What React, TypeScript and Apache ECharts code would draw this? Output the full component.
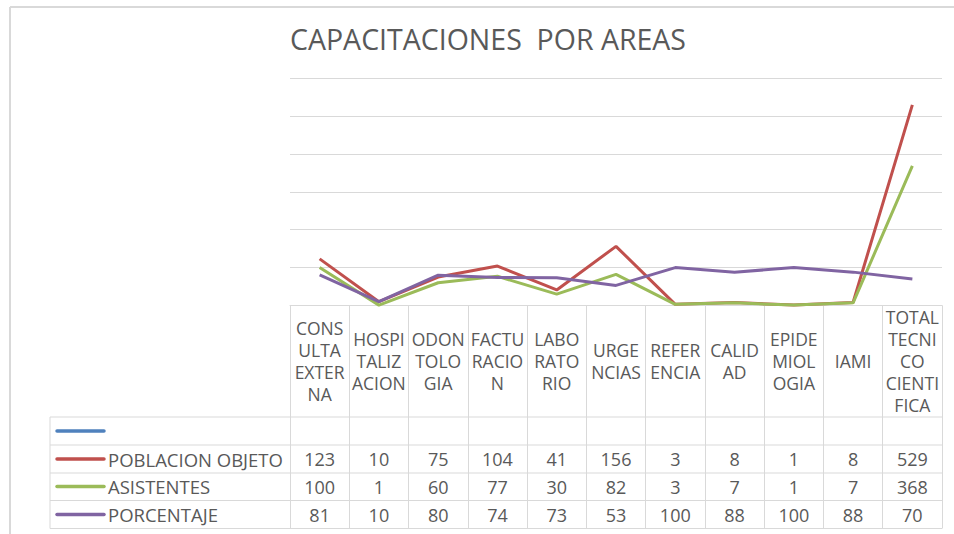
import React, { useEffect, useRef } from "react";
import * as echarts from "echarts";

const TITLE = "CAPACITACIONES  POR AREAS";
const categories = [
  "CONS\nULTA\nEXTER\nNA",
  "HOSPI\nTALIZ\nACION",
  "ODON\nTOLO\nGIA",
  "FACTU\nRACIO\nN",
  "LABO\nRATO\nRIO",
  "URGE\nNCIAS",
  "REFER\nENCIA",
  "CALID\nAD",
  "EPIDE\nMIOL\nOGIA",
  "IAMI",
  "TOTAL\nTECNI\nCO\nCIENTI\nFICA",
];
const poblacionObjeto = [123, 10, 75, 104, 41, 156, 3, 8, 1, 8, 529];
const asistentes = [100, 1, 60, 77, 30, 82, 3, 7, 1, 7, 368];
const porcentaje = [81, 10, 80, 74, 73, 53, 100, 88, 100, 88, 70];
const seriesNames = ["", "POBLACION OBJETO", "ASISTENTES", "PORCENTAJE"];
const seriesColors = ["#4f81bd", "#c0504d", "#9bbb59", "#8064a2"];
const yMin = 0;
const yMax = 600;
const yInterval = 100;

const FONT = "Open Sans";
const TXT = "#595959";
const LINE = "#d9d9d9";

export default function App() {
  const ref = useRef<HTMLDivElement>(null);
  useEffect(() => {
    document.body.style.margin = "0";
    if (!ref.current) return;
    const chart = echarts.init(ref.current, undefined, { renderer: "svg" });

    const axisY = 305.5;
    const rowMid = [431, 459, 486.5, 514.5];
    const rowLines = [417, 445, 473, 500.5, 528.5];
    const tableLeft = 50;
    const tableRight = 942;

    const dataRows = [poblacionObjeto, asistentes, porcentaje];

    const baseLabel = {
      color: TXT,
      fontFamily: FONT,
      fontSize: 18,
      interval: 0,
      verticalAlign: "middle" as const,
    };

    const xAxes: any[] = [
      {
        type: "category",
        data: categories,
        position: "bottom",
        boundaryGap: true,
        axisLine: { show: true, lineStyle: { color: LINE, width: 1 } },
        axisTick: { show: true, interval: 0, length: 223, inside: false, lineStyle: { color: LINE, width: 1 } },
        axisLabel: { ...baseLabel, fontSize: 17.5, margin: 361 - axisY, lineHeight: 22, align: "center" },
      },
      ...dataRows.map((vals, k) => ({
        type: "category",
        data: categories,
        position: "bottom",
        boundaryGap: true,
        axisLine: { show: false },
        axisTick: { show: false },
        axisLabel: {
          ...baseLabel,
          margin: rowMid[k + 1] - axisY,
          formatter: (_v: string, i: number) => String(vals[i]),
        },
      })),
    ];

    const graphic: any[] = [
      { type: "line", shape: { x1: 10, y1: 7, x2: 954, y2: 7 }, style: { stroke: "#d9d9d9", lineWidth: 2 } },
      { type: "line", shape: { x1: 10, y1: 7, x2: 10, y2: 534 }, style: { stroke: "#d9d9d9", lineWidth: 2 } },
      ...rowLines.map((y) => ({
        type: "line",
        shape: { x1: tableLeft, y1: y, x2: tableRight, y2: y },
        style: { stroke: LINE, lineWidth: 1 },
      })),
      { type: "line", shape: { x1: tableLeft, y1: rowLines[0], x2: tableLeft, y2: rowLines[4] }, style: { stroke: LINE, lineWidth: 1 } },
      ...seriesNames.map((n, k) => ({
        type: "line",
        shape: { x1: 57, y1: rowMid[k], x2: 104, y2: rowMid[k] },
        style: { stroke: seriesColors[k], lineWidth: 3.5, lineCap: "round" },
      })),
      ...seriesNames
        .map((n, k) => ({
          type: "text",
          x: 108,
          y: rowMid[k],
          style: { text: n, fill: TXT, font: `18.5px "${FONT}"`, verticalAlign: "middle", align: "left" },
        }))
        .filter((t) => t.style.text !== ""),
      {
        type: "text",
        x: 290,
        y: 39,
        style: { text: TITLE, fill: TXT, font: `28.5px "${FONT}"`, verticalAlign: "middle", align: "left" },
      },
    ];

    chart.setOption({
      animation: false,
      grid: { left: 290, right: 12, top: 78, bottom: 534 - axisY, containLabel: false },
      xAxis: xAxes,
      yAxis: {
        type: "value",
        min: yMin,
        max: yMax,
        interval: yInterval,
        axisLabel: { show: false },
        axisLine: { show: false },
        axisTick: { show: false },
        splitLine: { show: true, lineStyle: { color: LINE, width: 1 } },
      },
      series: [
        { name: seriesNames[0], type: "line", data: [], symbol: "none", lineStyle: { color: seriesColors[0], width: 3 } },
        ...dataRows.map((vals, k) => ({
          name: seriesNames[k + 1],
          type: "line",
          data: vals,
          symbol: "none",
          lineStyle: { color: seriesColors[k + 1], width: 3 },
          itemStyle: { color: seriesColors[k + 1] },
        })),
      ],
      graphic,
    });
    return () => chart.dispose();
  }, []);
  return <div ref={ref} style={{ width: 954, height: 534 }} />;
}
